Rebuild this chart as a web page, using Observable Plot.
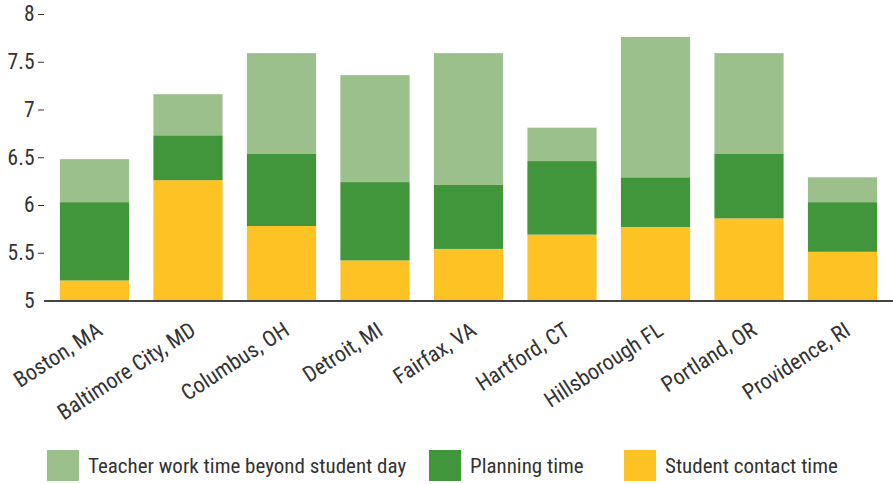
<!DOCTYPE html>
<html>
<head>
<meta charset="utf-8">
<script src="https://cdn.jsdelivr.net/npm/d3@7"></script>
<script src="https://cdn.jsdelivr.net/npm/@observablehq/plot@0.6"></script>
<style>
  body { margin: 0; background: #fff; font-family: "Roboto Condensed", "Liberation Sans", sans-serif; }
  #chart svg { display: block; }
  #legend { position: relative; height: 48px; width: 893px; }
  .item { position: absolute; top: 14px; display: flex; align-items: center; height: 31px; font-size: 21px; color: #333; }
  .sw { width: 32px; height: 31px; margin-right: 9px; }
</style>
</head>
<body>
<div id="chart"></div>
<div id="legend"></div>
<script>
const cities = ["Boston, MA", "Baltimore City, MD", "Columbus, OH", "Detroit, MI", "Fairfax, VA", "Hartford, CT", "Hillsborough FL", "Portland, OR", "Providence, RI"];
// hours
const studentContact = [5.21, 6.26, 5.78, 5.42, 5.54, 5.69, 5.77, 5.86, 5.51];
const planningTime   = [0.82, 0.47, 0.76, 0.82, 0.67, 0.77, 0.52, 0.68, 0.52];
const beyondDay      = [0.45, 0.43, 1.05, 1.12, 1.38, 0.35, 1.47, 1.05, 0.26];
const seriesNames = ["Teacher work time beyond student day", "Planning time", "Student contact time"];
const seriesColors = ["#9bc08b", "#41953a", "#fdc324"];
const yTicks = [5, 5.5, 6, 6.5, 7, 7.5, 8];

const rows = [];
cities.forEach((c, i) => {
  const s = studentContact[i], p = s + planningTime[i], b = p + beyondDay[i];
  rows.push({city: c, series: seriesNames[2], y1: 5, y2: s});
  rows.push({city: c, series: seriesNames[1], y1: s, y2: p});
  rows.push({city: c, series: seriesNames[0], y1: p, y2: b});
});

const font = "Roboto Condensed, Liberation Sans, sans-serif";
const chart = Plot.plot({
  width: 893,
  height: 436,
  marginLeft: 44,
  marginRight: 0,
  marginTop: 14,
  marginBottom: 135.5,
  style: {fontFamily: font, fontSize: "21.5px", color: "#333", background: "#fff"},
  x: {domain: cities, paddingInner: 0.26, paddingOuter: 0.17, round: false, label: null},
  y: {domain: [5, 8], label: null},
  color: {domain: seriesNames, range: seriesColors},
  marks: [
    Plot.rectY(rows, {x: "city", y1: "y1", y2: "y2", fill: "series"}),
    Plot.ruleY([5], {stroke: "#444", strokeWidth: 2}),
    Plot.axisY({ticks: yTicks.filter(d => d !== 5), tickSize: 6, tickPadding: 4, tickFormat: d => String(d), stroke: "#333", fill: "#333", fontSize: 21.5}),
    Plot.axisY({ticks: [5], tickSize: 0, tickPadding: 10, tickFormat: d => String(d), fill: "#333", fontSize: 21.5}),
    Plot.axisX({tickSize: 0, tickRotate: -33, tickPadding: 25, dx: 5, dy: 2, fill: "#333", fontSize: 22, label: null})
  ]
});
document.getElementById("chart").append(chart);

const legendLefts = [47, 429, 624];
const legend = document.getElementById("legend");
seriesNames.forEach((n, i) => {
  const it = document.createElement("div");
  it.className = "item";
  it.style.left = legendLefts[i] + "px";
  const sw = document.createElement("div");
  sw.className = "sw";
  sw.style.background = seriesColors[i];
  const t = document.createElement("span");
  t.textContent = n;
  it.append(sw, t);
  legend.append(it);
});
</script>
</body>
</html>
